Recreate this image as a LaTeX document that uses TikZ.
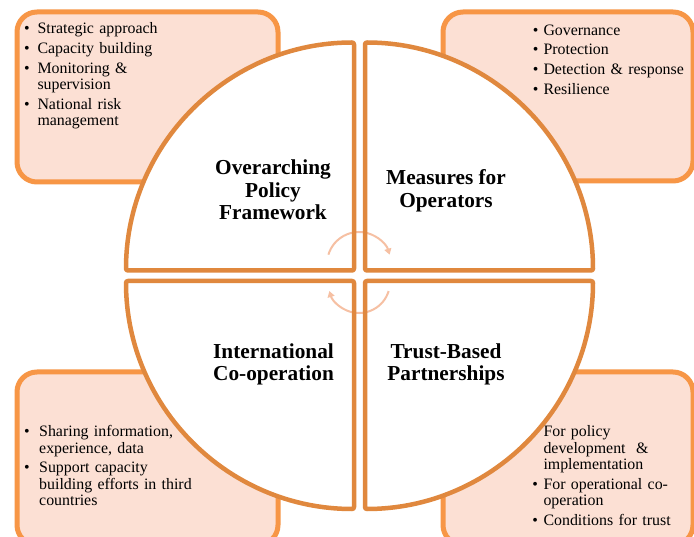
\documentclass[tikz,border=0pt]{standalone}
\usepackage{fontspec}
\setmainfont{Liberation Serif}
\usepackage{enumitem}
\usetikzlibrary{arrows.meta}

\definecolor{boxline}{RGB}{247,150,70}
\definecolor{boxfill}{RGB}{252,224,212}
\definecolor{ringline}{RGB}{224,136,62}
\definecolor{turnline}{RGB}{246,192,163}

\setlist[itemize]{label=\textbullet,leftmargin=14pt,labelsep=7.5pt,itemsep=3.2pt,
  topsep=0pt,parsep=0pt,partopsep=0pt}

\tikzset{
  infobox/.style={
    draw=boxline,fill=boxfill,line width=5pt,rounded corners=20pt,inner sep=0pt,
  },
  quarter/.style={
    draw=ringline,line width=4.5pt,line join=round,rounded corners=2pt,
  },
  items/.style={
    anchor=north west,inner sep=0pt,text width=230pt,
    font=\fontsize{15.9}{16.5}\selectfont,
  },
  heading/.style={
    align=center,inner sep=0pt,font=\fontsize{21.3}{22.5}\selectfont\bfseries,
  },
  turn/.style={
    draw=turnline,line width=2pt,-{Triangle[length=6pt,width=7pt]},
  }
}

\begin{document}
\begin{tikzpicture}[x=1pt,y=1pt]
    \useasboundingbox[fill=white] (0,0) rectangle (694,-537);
    \clip (0,0) rectangle (694,-537);

    \node[infobox,minimum width=261pt,minimum height=170pt] (polBox)   at (147.5,-97)   {};
    \node[infobox,minimum width=250pt,minimum height=169pt] (opsBox)   at (568,-96.5)   {};
    \node[infobox,minimum width=261pt,minimum height=173pt] (coopBox)  at (147.5,-458.5) {};
    \node[infobox,minimum width=250pt,minimum height=173pt] (trustBox) at (568,-458.5)  {};

    \node[items] (polList) at (23.3,-17) {
      \begin{itemize}[labelsep=7.8pt]
        \item Strategic approach
        \item Capacity building
        \item Monitoring \&\\ supervision
        \item National risk\\ management
      \end{itemize}};
    \node[items] (opsList) at (529.3,-18.5) {
      \begin{itemize}[labelsep=5pt]
        \item Governance
        \item Protection
        \item Detection \& response
        \item Resilience
      \end{itemize}};
    \node[items] (coopList) at (25,-420) {
      \begin{itemize}[labelsep=9.5pt]
        \item Sharing information,\\ experience, data
        \item Support capacity\\ building efforts in third\\ countries
      \end{itemize}};
    \node[items] (trustList) at (529.3,-420) {
      \begin{itemize}[labelsep=5.5pt]
        \item[] For policy\\ development \ \&\\ implementation
        \item For operational co-\\ operation
        \item Conditions for trust
      \end{itemize}};

    \foreach \cx/\cy/\a in {354/270.5/90, 365/270.5/0, 354/281/180, 365/281/270}
      \fill[white] (\cx,-\cy) -- ++(\a:228) arc[start angle=\a,end angle=\a+90,radius=228] -- cycle;

    \draw[turn] ([shift={(163:32)}]359,-264) arc[start angle=163,end angle=17,radius=32];
    \draw[turn] ([shift={(-17:31)}]359,-282) arc[start angle=-17,end angle=-163,radius=31];

    \foreach \cx/\cy/\a in {354/270.5/90, 365/270.5/0, 354/281/180, 365/281/270}
      \draw[quarter] (\cx,-\cy) -- ++(\a:228) arc[start angle=\a,end angle=\a+90,radius=228] -- cycle;

    \node[heading] (polTitle)   at (273,-190)   {Overarching\\Policy\\Framework};
    \node[heading] (opsTitle)   at (446,-191)   {Measures for\\Operators};
    \node[heading] (coopTitle)  at (273.5,-364.5) {International\\Co-operation};
    \node[heading] (trustTitle) at (446,-364.5)   {Trust-Based\\Partnerships};
\end{tikzpicture}
\end{document}
